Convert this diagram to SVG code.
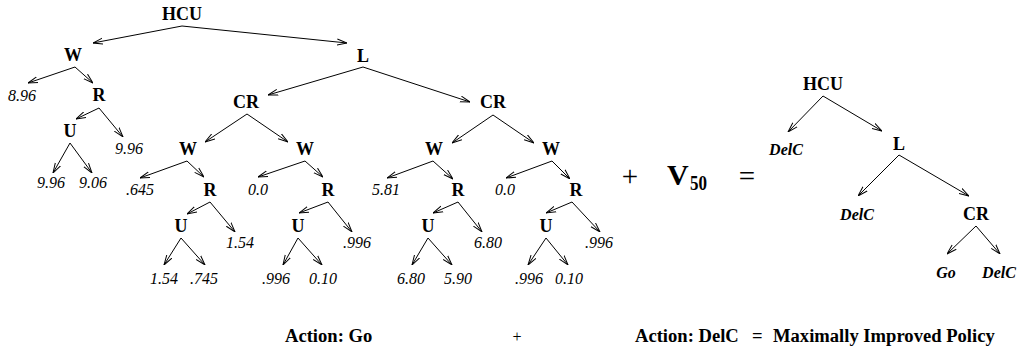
<svg xmlns="http://www.w3.org/2000/svg" width="1018" height="351" viewBox="0 0 1018 351">
<defs>
<style>
text{font-family:"Liberation Serif","Times New Roman",serif;fill:#000;text-anchor:middle}
.n{font-size:18px;font-weight:bold}
.v{font-size:16px;font-style:italic}
.a{font-size:16px;font-style:italic;font-weight:bold}
.big{font-size:29px}
.cap{font-size:18.6px;font-weight:bold;text-anchor:start}
.e line{stroke:#000;stroke-width:1;fill:none;marker-end:url(#ah)}
</style>
<marker id="ah" markerUnits="userSpaceOnUse" markerWidth="10" markerHeight="8" viewBox="0 0 10 8" refX="10" refY="4" orient="auto">
<path d="M0,1 L10,4 L0,7" fill="none" stroke="#000" stroke-width="1"/>
</marker>
</defs>
<rect width="1018" height="351" fill="#fff"/>
<g id="connectors" class="e">
<line x1="182" y1="26" x2="93" y2="43"/>
<line x1="182" y1="26" x2="347" y2="43"/>
<line x1="75" y1="67" x2="28" y2="83"/>
<line x1="75" y1="67" x2="93" y2="83"/>
<line x1="99" y1="108" x2="76" y2="119"/>
<line x1="99" y1="108" x2="123" y2="137"/>
<line x1="70" y1="143" x2="53" y2="173"/>
<line x1="70" y1="143" x2="92" y2="173"/>
<line x1="363" y1="67" x2="268" y2="95"/>
<line x1="363" y1="67" x2="470" y2="102"/>
<line x1="247" y1="114" x2="205" y2="142"/>
<line x1="247" y1="114" x2="288" y2="142"/>
<line x1="493" y1="115" x2="452" y2="143"/>
<line x1="493" y1="115" x2="534" y2="143"/>
<line x1="187" y1="161" x2="140" y2="178"/>
<line x1="187" y1="161" x2="204" y2="177"/>
<line x1="305" y1="161" x2="258" y2="177"/>
<line x1="305" y1="161" x2="323" y2="177"/>
<line x1="433" y1="161" x2="387" y2="178"/>
<line x1="433" y1="161" x2="453" y2="179"/>
<line x1="552" y1="161" x2="506" y2="178"/>
<line x1="552" y1="161" x2="570" y2="179"/>
<line x1="210" y1="202" x2="187" y2="214"/>
<line x1="210" y1="202" x2="235" y2="232"/>
<line x1="328" y1="202" x2="299" y2="213"/>
<line x1="328" y1="202" x2="352" y2="232"/>
<line x1="458" y1="202" x2="433" y2="213"/>
<line x1="458" y1="202" x2="482" y2="232"/>
<line x1="572" y1="202" x2="546" y2="213"/>
<line x1="572" y1="202" x2="600" y2="232"/>
<line x1="181" y1="238" x2="164" y2="265"/>
<line x1="181" y1="238" x2="205" y2="265"/>
<line x1="298" y1="238" x2="283" y2="265"/>
<line x1="298" y1="238" x2="322" y2="265"/>
<line x1="428" y1="238" x2="412" y2="265"/>
<line x1="428" y1="238" x2="452" y2="265"/>
<line x1="546" y1="238" x2="528" y2="265"/>
<line x1="546" y1="238" x2="568" y2="265"/>
<line x1="823" y1="96" x2="788" y2="132"/>
<line x1="823" y1="96" x2="882" y2="131"/>
<line x1="899" y1="155" x2="858" y2="196"/>
<line x1="899" y1="155" x2="969" y2="196"/>
<line x1="976" y1="226" x2="947" y2="254"/>
<line x1="976" y1="226" x2="1000" y2="254"/>
</g>
<g id="n-hcu"><text class="n" x="182" y="20">HCU</text></g>
<g id="n-w1"><text class="n" x="73" y="61">W</text></g>
<g id="n-l"><text class="n" x="363" y="62">L</text></g>
<g id="n-896"><text class="v" x="22" y="101">8.96</text></g>
<g id="n-r1"><text class="n" x="99" y="101">R</text></g>
<g id="n-u1"><text class="n" x="70" y="137">U</text></g>
<g id="n-996a"><text class="v" x="129" y="154">9.96</text></g>
<g id="n-996b"><text class="v" x="51" y="188">9.96</text></g>
<g id="n-906"><text class="v" x="93" y="188">9.06</text></g>
<g id="n-cr1"><text class="n" x="246" y="108">CR</text></g>
<g id="n-cr2"><text class="n" x="493" y="108">CR</text></g>
<g id="n-w2"><text class="n" x="188" y="155">W</text></g>
<g id="n-w3"><text class="n" x="305" y="155">W</text></g>
<g id="n-w4"><text class="n" x="434" y="155">W</text></g>
<g id="n-w5"><text class="n" x="551" y="155">W</text></g>
<g id="n-645"><text class="v" x="140" y="195">.645</text></g>
<g id="n-r2"><text class="n" x="210" y="196">R</text></g>
<g id="n-00a"><text class="v" x="258" y="195">0.0</text></g>
<g id="n-r3"><text class="n" x="328" y="196">R</text></g>
<g id="n-581"><text class="v" x="386" y="195">5.81</text></g>
<g id="n-r4"><text class="n" x="458" y="196">R</text></g>
<g id="n-00b"><text class="v" x="505" y="195">0.0</text></g>
<g id="n-r5"><text class="n" x="576" y="196">R</text></g>
<g id="n-u2"><text class="n" x="181" y="232">U</text></g>
<g id="n-u3"><text class="n" x="298" y="232">U</text></g>
<g id="n-u4"><text class="n" x="428" y="232">U</text></g>
<g id="n-u5"><text class="n" x="546" y="232">U</text></g>
<g id="n-154a"><text class="v" x="240" y="248">1.54</text></g>
<g id="n-996c"><text class="v" x="357" y="248">.996</text></g>
<g id="n-680a"><text class="v" x="488" y="248">6.80</text></g>
<g id="n-996d"><text class="v" x="599" y="248">.996</text></g>
<g id="n-154b"><text class="v" x="164" y="284">1.54</text></g>
<g id="n-745"><text class="v" x="204" y="284">.745</text></g>
<g id="n-996e"><text class="v" x="276" y="284">.996</text></g>
<g id="n-010a"><text class="v" x="323" y="284">0.10</text></g>
<g id="n-680b"><text class="v" x="411" y="284">6.80</text></g>
<g id="n-590"><text class="v" x="458" y="284">5.90</text></g>
<g id="n-996f"><text class="v" x="529" y="284">.996</text></g>
<g id="n-010b"><text class="v" x="569" y="284">0.10</text></g>
<g id="op-plus"><text class="big" x="630" y="186">+</text></g>
<g id="op-v50"><text x="667" y="185" style="font-size:30px;font-weight:bold;text-anchor:start">V</text><text x="690" y="190" textLength="17" lengthAdjust="spacingAndGlyphs" style="font-size:21px;font-weight:bold;text-anchor:start">50</text></g>
<g id="op-eq"><text class="big" x="747" y="186">=</text></g>
<g id="p-hcu"><text class="n" x="823" y="90">HCU</text></g>
<g id="p-delc1"><text class="a" x="786" y="155">DelC</text></g>
<g id="p-l"><text class="n" x="899" y="150">L</text></g>
<g id="p-delc2"><text class="a" x="857" y="220">DelC</text></g>
<g id="p-cr"><text class="n" x="976" y="220">CR</text></g>
<g id="p-go"><text class="a" x="946" y="278">Go</text></g>
<g id="p-delc3"><text class="a" x="999" y="278">DelC</text></g>
<g id="caption">
<text class="cap" x="285" y="342">Action: Go</text>
<text x="517" y="342" style="font-size:16px">+</text>
<text class="cap" x="635" y="342">Action: DelC</text>
<text class="cap" x="752" y="342">=</text>
<text class="cap" x="773" y="342">Maximally Improved Policy</text>
</g>
</svg>
